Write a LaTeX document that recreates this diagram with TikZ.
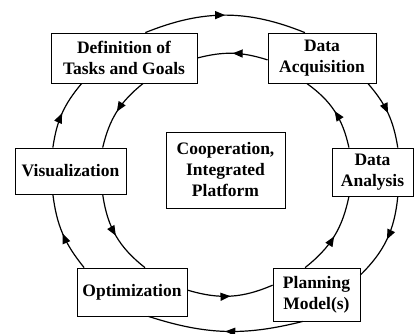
\documentclass[tikz,border=0pt]{standalone}
\usepackage{fontspec}
\setmainfont{Liberation Serif}
\usetikzlibrary{arrows.meta, decorations.markings}
\tikzset{
  stage/.style={draw, line width=0.8pt, fill=white, align=center, inner sep=0pt, font=\bfseries\fontsize{17.5}{21}\selectfont},
  flowarc/.style={line width=1.2pt, postaction={decorate}, decoration={markings, mark=at position 0.5 with {\arrow{Triangle[length=10pt, width=8pt]}}}}
}
\begin{document}
\begin{tikzpicture}[x=1pt, y=1pt]
    \useasboundingbox (0,0) rectangle (414,333);

    % === Stages ===
    \node[stage, minimum width=146pt, minimum height=50pt] (def) at (124,275) {Definition of\\Tasks and Goals};
    \node[stage, minimum width=108pt, minimum height=50pt] (acq) at (322,275) {Data\\Acquisition};
    \node[stage, minimum width=81pt, minimum height=48pt] (ana) at (372.5,161) {Data\\Analysis};
    \node[stage, minimum width=87pt, minimum height=53pt] (plan) at (316.5,38.5) {Planning\\Model(s)};
    \node[stage, minimum width=110pt, minimum height=48pt] (opt) at (132,41) {Optimization};
    \node[stage, minimum width=111pt, minimum height=46pt] (vis) at (70.5,162) {Visualization};

    % Centre
    \node[stage, minimum width=119pt, minimum height=76pt] (coop) at (225.5,163) {Cooperation,\\Integrated\\Platform};

    % === Outer ring (clockwise) ===
    \draw[flowarc] (def.50) to[bend left=22] (acq.124);
    \draw[flowarc] (acq.-29) to[bend left=16] (ana.44);
    \draw[flowarc] (ana.-44) to[bend left=20] (plan.24);
    \draw[flowarc] (plan.243) to[bend left=16] (opt.-56);
    \draw[flowarc] (opt.153) to[bend left=16] (vis.233);
    \draw[flowarc] (vis.127) to[bend left=16] (def.211);

    % === Inner ring (counter-clockwise) ===
    \draw[flowarc] (acq.182) to[bend right=16] (def.east);
    \draw[flowarc] (def.-53) to[bend right=19] (vis.36);
    \draw[flowarc] (vis.-36) to[bend right=22] (opt.62);
    \draw[flowarc] (opt.2) to[bend right=20] (plan.168);
    \draw[flowarc] (plan.113) to[bend right=20] (ana.226);
    \draw[flowarc] (ana.134) to[bend right=21] (acq.239);
\end{tikzpicture}
\end{document}
